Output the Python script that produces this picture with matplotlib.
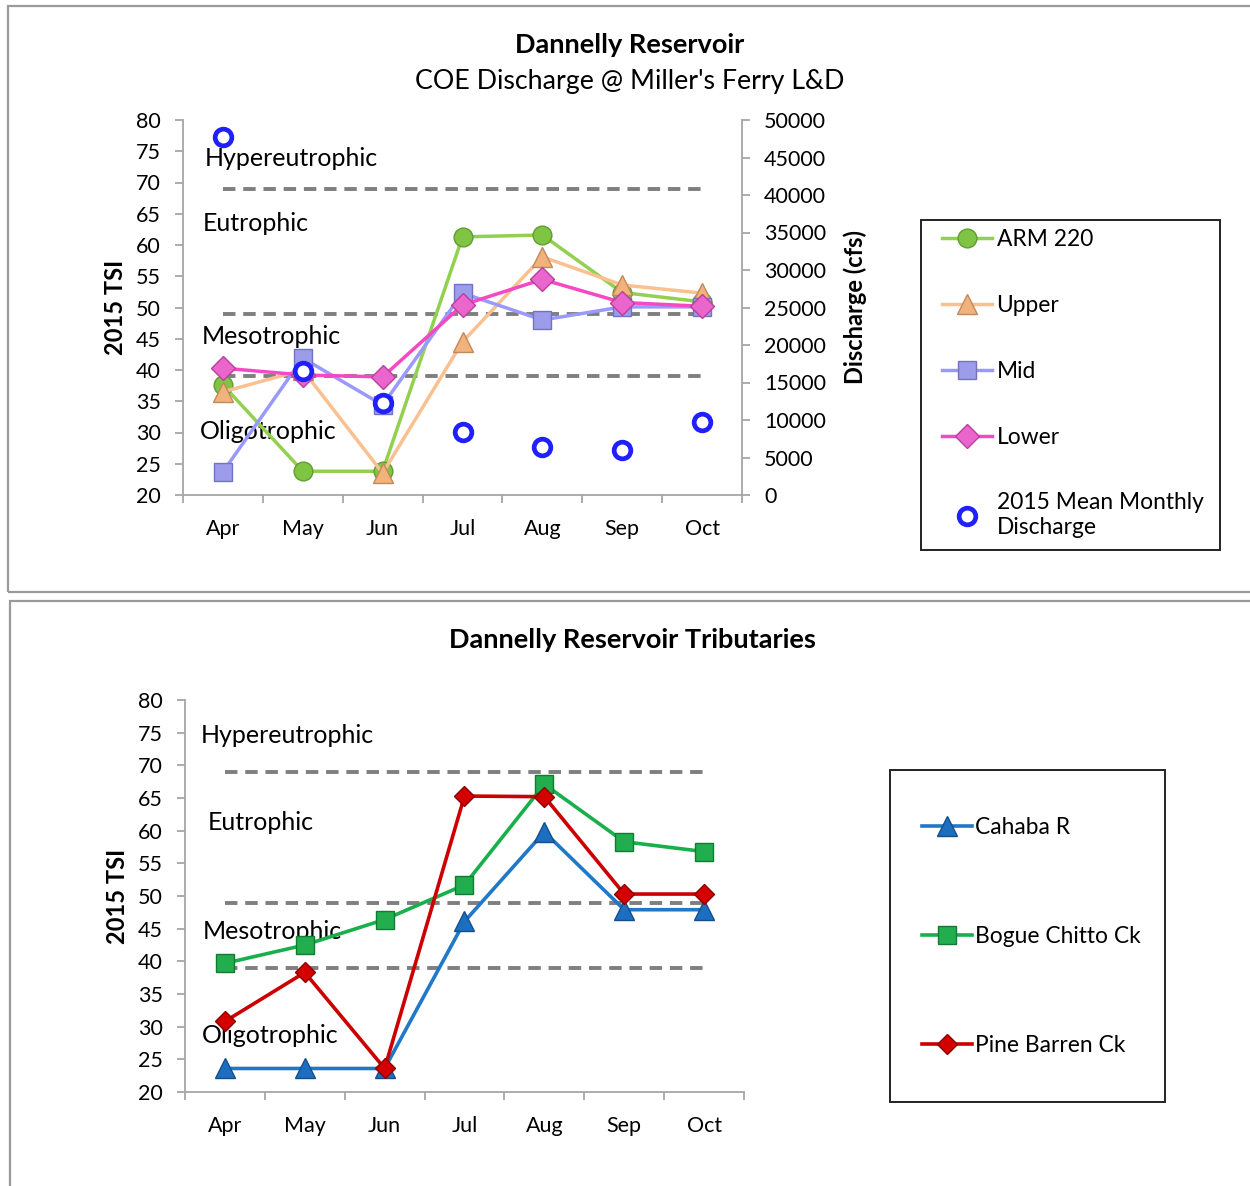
import matplotlib
matplotlib.use("Agg")
import matplotlib.pyplot as plt
from matplotlib.patches import Rectangle
from matplotlib.ticker import FixedLocator

plt.rcParams['font.family'] = ['Lato', 'DejaVu Sans']

months = ['Apr', 'May', 'Jun', 'Jul', 'Aug', 'Sep', 'Oct']

# Top chart (TSI)
arm220 = [37.6, 23.8, 23.8, 61.3, 61.6, 52.4, 50.9]
upper = [36.5, 40.0, 23.5, 44.5, 58.1, 53.6, 52.3]
mid = [23.7, 41.9, 34.4, 52.3, 48.0, 50.1, 50.1]
lower = [40.3, 39.2, 38.9, 50.4, 54.5, 50.8, 50.2]
discharge = [47800, 16600, 12250, 8450, 6450, 6000, 9750]

# Bottom chart (TSI)
cahaba = [23.6, 23.6, 23.6, 46.1, 59.8, 47.9, 47.9]
bogue = [39.7, 42.5, 46.4, 51.7, 67.1, 58.3, 56.8]
pine = [30.8, 38.3, 23.6, 65.3, 65.2, 50.3, 50.3]

# Trophic boundaries
boundaries = [69, 49, 39]
zone_names = ['Hypereutrophic', 'Eutrophic', 'Mesotrophic', 'Oligotrophic']
zone_y_top = [73.9, 63.4, 45.4, 30.2]
zone_y_bot = [74.6, 61.2, 44.6, 28.6]

W, H = 1250, 1186
fig = plt.figure(figsize=(W / 100, H / 100), dpi=100)

def fx(px):
    return px / W

def fy(py):
    return 1 - py / H

GRAY = '#a6a6a6'
TICK_FS = 15.5

# panel borders
fig.patches.append(Rectangle((fx(8), fy(592)), fx(1300 - 8), fy(6) - fy(592),
                             transform=fig.transFigure, fill=False,
                             edgecolor='#9a9a9a', lw=1.6, zorder=0))
fig.patches.append(Rectangle((fx(10), fy(1250)), fx(1300 - 10), fy(601) - fy(1250),
                             transform=fig.transFigure, fill=False,
                             edgecolor='#9a9a9a', lw=1.6, zorder=0))

def style_axes(ax, x, labels_y):
    ax.set_xlim(-0.5, 6.5)
    ax.set_ylim(20, 80)
    ax.set_yticks(range(20, 81, 5))
    ax.set_xticks(x)
    ax.set_xticklabels(months, fontsize=TICK_FS)
    ax.xaxis.set_minor_locator(FixedLocator([i - 0.5 for i in range(8)]))
    ax.tick_params(axis='x', which='major', length=0, pad=17)
    ax.tick_params(axis='x', which='minor', length=6, width=1.3, color=GRAY)
    ax.tick_params(axis='y', length=6, width=1.3, color=GRAY, pad=10, labelsize=TICK_FS)
    for s in ['top', 'right']:
        ax.spines[s].set_visible(False)
    for s in ['left', 'bottom']:
        ax.spines[s].set_color(GRAY)
        ax.spines[s].set_linewidth(1.3)
    ax.set_ylabel('2015 TSI', fontsize=17, fontweight='bold', labelpad=6)
    for b in boundaries:
        ax.plot(x, [b] * len(x), color='#7f7f7f', lw=2.8, ls=(0, (3.2, 2.0)), zorder=1)
    for name, yy, xo in zip(zone_names, labels_y[0], labels_y[1]):
        ax.text(xo, yy, name, fontsize=18, ha='left', va='center', zorder=2)

x = list(range(len(months)))

# ---------------- Top chart ----------------
ax1 = fig.add_axes([fx(183), fy(495), fx(742 - 183), fy(120) - fy(495)])
style_axes(ax1, x, (zone_y_top, [-0.23, -0.25, -0.27, -0.29]))

ms = 13.5
l1, = ax1.plot(x, arm220, color='#92d050', lw=2.5, marker='o', ms=ms,
               mfc='#80c444', mec='#5e9e2e', mew=1, zorder=3, label='ARM 220')
l2, = ax1.plot(x, upper, color='#fac08f', lw=2.5, marker='^', ms=ms + 1.5,
               mfc='#f2b27c', mec='#c08a5c', mew=1, zorder=4, label='Upper')
l3, = ax1.plot(x, mid, color='#9999ff', lw=2.5, marker='s', ms=ms - 0.5,
               mfc='#9c9ceb', mec='#7272c4', mew=1, zorder=5, label='Mid')
l4, = ax1.plot(x, lower, color='#f548c4', lw=2.5, marker='D', ms=ms - 1.5,
               mfc='#ea66cc', mec='#b8409c', mew=1, zorder=6, label='Lower')

ax2 = ax1.twinx()
ax2.set_ylim(0, 50000)
ax2.set_yticks(range(0, 50001, 5000))
ax2.tick_params(axis='y', length=6, width=1.3, color=GRAY, pad=10, labelsize=TICK_FS)
for s in ['top', 'left', 'bottom']:
    ax2.spines[s].set_visible(False)
ax2.spines['right'].set_color(GRAY)
ax2.spines['right'].set_linewidth(1.3)
ax2.set_ylabel('Discharge (cfs)', fontsize=17, fontweight='bold', labelpad=12)
l5, = ax2.plot(x, discharge, ls='none', marker='o', ms=12, mfc='white',
               mec='#2020ff', mew=3.4, zorder=7, label='2015 Mean Monthly\nDischarge')

fig.text(fx(630), fy(45), 'Dannelly Reservoir', fontsize=19.5, fontweight='bold',
         ha='center', va='center')
fig.text(fx(630), fy(81), "COE Discharge @ Miller's Ferry L&D", fontsize=19.3,
         ha='center', va='center')

# legend box top
fig.patches.append(Rectangle((fx(921), fy(550)), fx(1220 - 921), fy(220) - fy(550),
                             transform=fig.transFigure, fill=False,
                             edgecolor='#222222', lw=1.4))
leg1 = fig.legend(handles=[l1, l2, l3, l4, l5], loc='upper left',
                  bbox_to_anchor=(fx(926), fy(213)), frameon=False, fontsize=16.4,
                  labelspacing=1.97, handlelength=2.2, handletextpad=0.2,
                  borderpad=0.2)

# ---------------- Bottom chart ----------------
ax3 = fig.add_axes([fx(185), fy(1092), fx(744 - 185), fy(700) - fy(1092)])
style_axes(ax3, x, (zone_y_bot, [-0.3, -0.21, -0.28, -0.29]))

b1, = ax3.plot(x, cahaba, color='#1f78c8', lw=2.6, marker='^', ms=15,
               mfc='#1c6fc0', mec='#144f8c', mew=1, zorder=3, label='Cahaba R')
b2, = ax3.plot(x, bogue, color='#19b04c', lw=2.6, marker='s', ms=13.5,
               mfc='#22ae4e', mec='#137a34', mew=1, zorder=4, label='Bogue Chitto Ck')
b3, = ax3.plot(x, pine, color='#cc0000', lw=2.6, marker='D', ms=10.5,
               mfc='#d40000', mec='#8c0000', mew=1, zorder=5, label='Pine Barren Ck')

fig.text(fx(632), fy(640), 'Dannelly Reservoir Tributaries', fontsize=19.5,
         fontweight='bold', ha='center', va='center')

fig.patches.append(Rectangle((fx(890), fy(1102)), fx(1165 - 890), fy(770) - fy(1102),
                             transform=fig.transFigure, fill=False,
                             edgecolor='#222222', lw=1.4))
leg2 = fig.legend(handles=[b1, b2, b3], loc='upper left',
                  bbox_to_anchor=(fx(906), fy(801)), frameon=False, fontsize=16.4,
                  labelspacing=3.86, handlelength=2.2, handletextpad=0.15,
                  borderpad=0.2)

fig.savefig('out.png', dpi=100)
